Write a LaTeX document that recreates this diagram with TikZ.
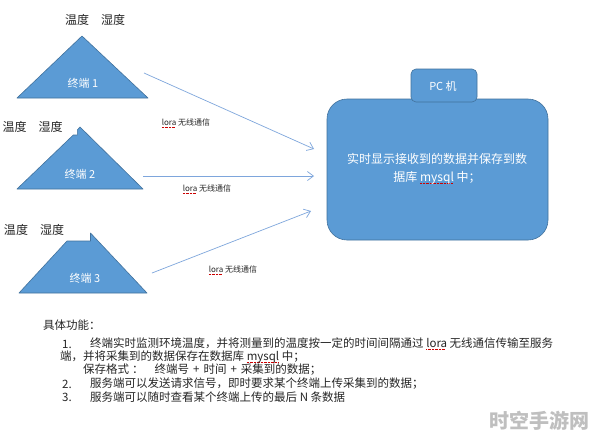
\documentclass[tikz,border=0pt]{standalone}
\usepackage{fontspec}
\setmainfont{Noto Sans CJK SC}
\usetikzlibrary{arrows.meta}
\XeTeXlinebreaklocale "zh"
\XeTeXlinebreakskip=0pt plus 1.5pt
\definecolor{tri}{HTML}{5B9BD5}
\definecolor{triedge}{HTML}{41719C}
\definecolor{arr}{HTML}{7EA6DC}
\definecolor{txt}{HTML}{262626}
\newsavebox{\sqbox}
\newcommand\redsq[1]{\sbox{\sqbox}{#1}\rlap{\textcolor{red!80!black}{\raisebox{-2.2pt}{\leaders\hbox{\rule{0.8pt}{0.5pt}\hspace{0.6pt}}\hskip\wd\sqbox}}}\usebox{\sqbox}}
\tikzset{
  shapefill/.style={fill=tri, draw=triedge, line width=0.6pt, line join=round},
  hum/.style={font=\fontsize{12}{14}\selectfont, text=txt, inner sep=0pt},
  termlabel/.style={font=\fontsize{11}{13}\selectfont, text=white, inner sep=0pt},
  loralabel/.style={font=\fontsize{8}{10}\selectfont, text=txt, inner sep=0pt},
  link/.style={draw=arr, line width=0.7pt, -{Straight Barb[length=6pt,width=9pt]}},
  bodytext/.style={font=\fontsize{11.5}{14}\selectfont, text=txt, inner sep=0pt, anchor=west},
  boxtext/.style={font=\fontsize{12}{18}\selectfont, text=white, align=center, inner sep=0pt}
}
\begin{document}
\begin{tikzpicture}[x=1pt, y=-1pt]
\useasboundingbox[fill=white] (0,0) rectangle (596,440);

% terminals
\draw[shapefill] (17,98) -- (82,36) -- (148,98) -- cycle;
\draw[shapefill] (17,189) -- (73.3,135) -- (77.3,135) -- (77.3,130) -- (80,127) -- (143,189) -- cycle;
\draw[shapefill] (19,293) -- (67,241) -- (90.5,241) -- (90.5,233) -- (147,293) -- cycle;

\node[termlabel] (t1) at (83,83) {终端 1};
\node[termlabel] (t2) at (80,174) {终端 2};
\node[termlabel] (t3) at (85,278) {终端 3};

\node[hum] (h1) at (95,20) {温度\quad 湿度};
\node[hum] (h2) at (32.5,127) {温度\quad 湿度};
\node[hum] (h3) at (34,230) {温度\quad 湿度};

% PC
\draw[shapefill, rounded corners=20pt] (327,99) rectangle (548,240);
\draw[shapefill, rounded corners=5pt] (411,69) rectangle (477,102);
\node[termlabel] (pc) at (443,86) {PC 机};
\node[boxtext] (pctext) at (437,169) {实时显示接收到的数据并保存到数\\据库 \redsq{mysql} 中；};

% links
\coordinate (s1) at (144,73);
\coordinate (e1) at (314,149);
\coordinate (s2) at (143,176);
\coordinate (e2) at (314,176);
\coordinate (s3) at (152,273);
\coordinate (e3) at (311,211);
\draw[link] (s1) -- (e1);
\draw[link] (s2) -- (e2);
\draw[link] (s3) -- (e3);

\node[loralabel] (l1) at (186,123) {\redsq{lora} 无线通信};
\node[loralabel] (l2) at (207,189) {\redsq{lora} 无线通信};
\node[loralabel] (l3) at (233,270) {\redsq{lora} 无线通信};

% description
\node[bodytext] (d0) at (43,325) {具体功能：};
\node[bodytext] (n1) at (62,344) {1.};
\node[bodytext, text width=477pt, align=justify] (d1) at (90,344) {\parfillskip=0pt\relax 终端实时监测环境温度，并将测量到的温度按一定的时间间隔通过 \redsq{lora} 无线通信传输至服务};
\node[bodytext] (d1b) at (60,357) {端，并将采集到的数据保存在数据库 \redsq{mysql} 中；};
\node[bodytext] (d1c) at (83,370) {保存格式\hspace{3pt}：\hspace{11pt}终端号\hspace{4pt}+\hspace{4pt}时间\hspace{4pt}+\hspace{4pt}采集到的数据；};
\node[bodytext] (n2) at (62,384) {2.};
\node[bodytext] (d2) at (90,384) {服务端可以发送请求信号，即时要求某个终端上传采集到的数据；};
\node[bodytext] (n3) at (62,397) {3.};
\node[bodytext] (d3) at (90,397) {服务端可以随时查看某个终端上传的最后 N 条数据};

% watermark
\node[font=\fontsize{20}{22}\selectfont\bfseries, text=black!25, inner sep=0pt] (wm) at (539,421) {时空手游网};
\end{tikzpicture}
\end{document}
